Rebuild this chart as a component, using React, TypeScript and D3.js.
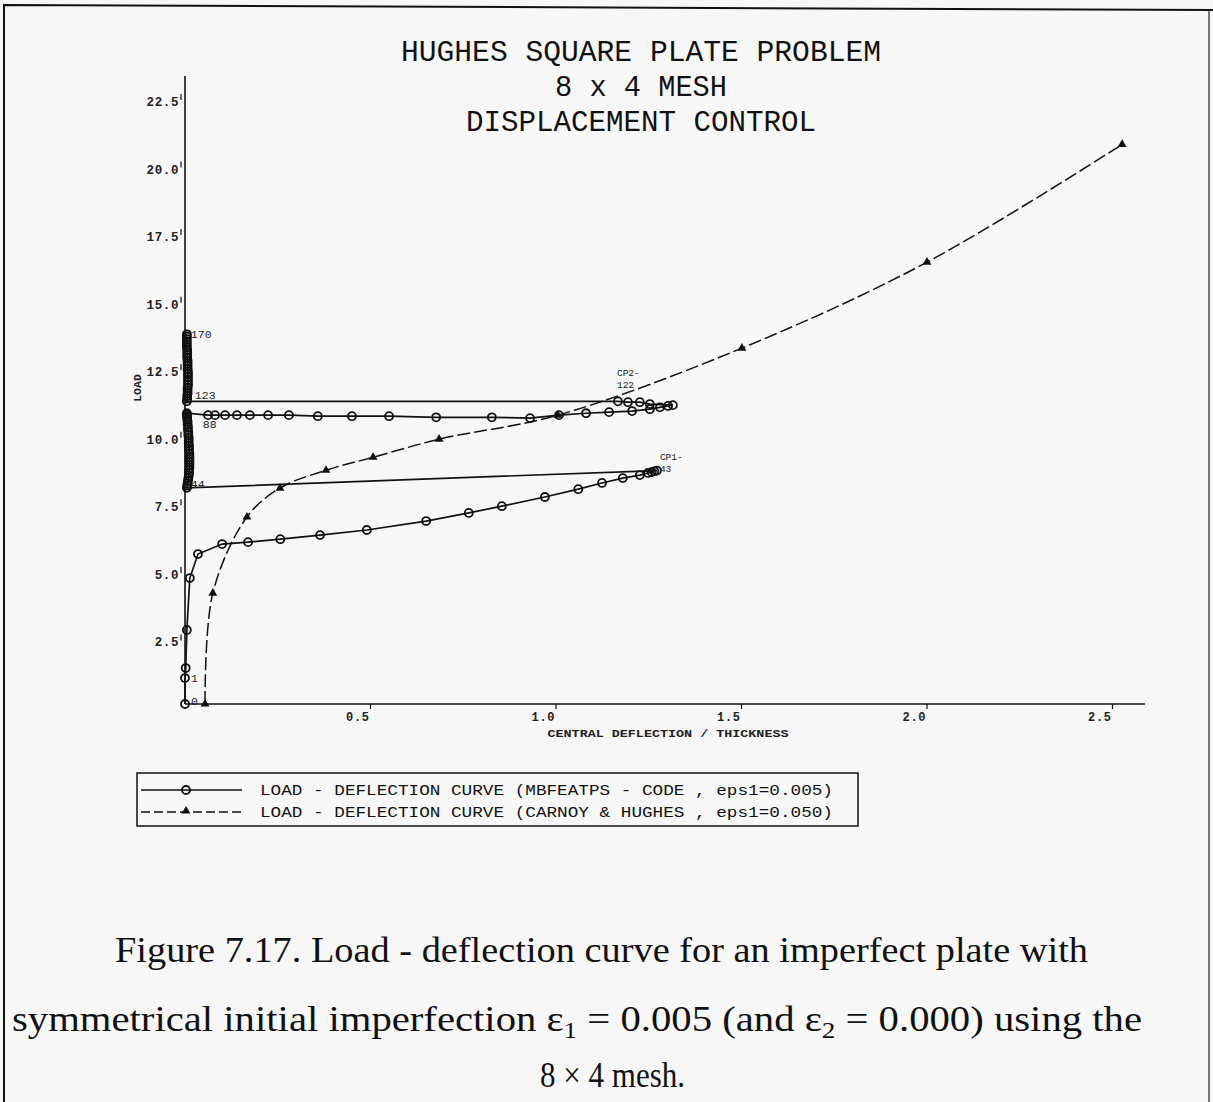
import React from "react";
import * as d3 from "d3";

// ---- data ----
const titleLines = ["HUGHES SQUARE PLATE PROBLEM", "8 x 4 MESH", "DISPLACEMENT CONTROL"];
const titleWidths = [480, 172, 350];

const xTicks = [0.5, 1.0, 1.5, 2.0, 2.5];
const yTicks = [2.5, 5.0, 7.5, 10.0, 12.5, 15.0, 17.5, 20.0, 22.5];

// MBFEATPS - CODE (eps1 = 0.005), steps 0 .. 170
const mbfDeflection = [
  // 0 -> 43
  0, 0, 0.002, 0.005, 0.013, 0.035, 0.1, 0.17, 0.257, 0.364, 0.49, 0.65, 0.765, 0.854, 0.97, 1.06,
  1.124, 1.18, 1.226, 1.248, 1.258, 1.265, 1.272,
  // 44 -> 88
  0.005, 0.006, 0.007, 0.008, 0.009, 0.01, 0.011, 0.011, 0.012, 0.012, 0.012, 0.012, 0.012, 0.012,
  0.011, 0.011, 0.011, 0.01, 0.01, 0.01, 0.009, 0.009, 0.008, 0.008, 0.007, 0.007, 0.006, 0.006,
  0.005, 0.005,
  // 88 -> 122
  0.062, 0.081, 0.108, 0.14, 0.175, 0.224, 0.28, 0.358, 0.45, 0.55, 0.677, 0.827, 0.93, 1.008,
  1.081, 1.143, 1.205, 1.253, 1.28, 1.302, 1.315, 1.253, 1.226, 1.194, 1.167,
  // 123 -> 170
  0.005, 0.006, 0.006, 0.007, 0.007, 0.007, 0.008, 0.008, 0.008, 0.008, 0.008, 0.008, 0.007,
  0.007, 0.007, 0.007, 0.006, 0.006, 0.006, 0.006, 0.005, 0.005, 0.005, 0.005, 0.005, 0.005,
];
const mbfLoad = [
  0, 0.96, 1.33, 2.74, 4.66, 5.55, 5.92, 5.99, 6.1, 6.25, 6.44, 6.77, 7.07, 7.32, 7.66, 7.95,
  8.18, 8.36, 8.47, 8.55, 8.58, 8.61, 8.64,
  8.0, 8.08, 8.16, 8.25, 8.35, 8.45, 8.55, 8.65, 8.75, 8.85, 8.95, 9.05, 9.15, 9.25,
  9.35, 9.45, 9.55, 9.65, 9.75, 9.85, 9.95, 10.05, 10.15, 10.25, 10.35, 10.45, 10.55, 10.63,
  10.7, 10.76,
  10.69, 10.69, 10.69, 10.69, 10.69, 10.69, 10.69, 10.65, 10.65, 10.65, 10.61, 10.61, 10.58, 10.69,
  10.76, 10.8, 10.84, 10.91, 10.98, 11.03, 11.06, 11.1, 11.17, 11.17, 11.2,
  11.2, 11.3, 11.4, 11.5, 11.6, 11.7, 11.8, 11.9, 12.0, 12.1, 12.2, 12.3, 12.4,
  12.5, 12.6, 12.7, 12.8, 12.9, 13.0, 13.1, 13.2, 13.3, 13.4, 13.5, 13.6, 13.68,
];

// CARNOY & HUGHES (eps1 = 0.050)
const chDeflection = [0.054, 0.075, 0.167, 0.256, 0.38, 0.507, 0.685, 1.005, 1.501, 2.0, 2.526];
const chLoad = [0.0, 4.1, 6.92, 7.99, 8.65, 9.13, 9.8, 10.69, 13.17, 16.35, 20.71];

// step annotations: text and the point of the MBFEATPS curve they belong to
const stepText = ["0", "1", "CP1-", "44", "88", "CP2-", "123", "170"];
const stepSub = ["", "", "43", "", "", "122", "", ""];
const stepIndex = [0, 1, 22, 23, 52, 77, 78, 103];

const legendLabels = [
  "LOAD - DEFLECTION CURVE (MBFEATPS - CODE , eps1=0.005)",
  "LOAD - DEFLECTION CURVE (CARNOY & HUGHES , eps1=0.050)",
];

const W = 1213;
const H = 1102;
const mono = "'Liberation Mono', 'DejaVu Sans Mono', monospace";
const serif = "'Liberation Serif', 'DejaVu Serif', serif";

// offsets of each step label from its point, in px
const stepOffset: Record<string, [number, number]> = {
  "0": [6, 1],
  "1": [6, 4],
  "CP1-": [3, -11],
  "44": [4, 0],
  "88": [16, 15],
  "CP2-": [-1, -25],
  "123": [8, -2],
  "170": [4, 4],
};

export default function App() {
  const x = d3.scaleLinear().domain([0, 2.5]).range([185, 1112.5]);
  const y = d3.scaleLinear().domain([0, 22.5]).range([704, 96]);

  const n = Math.min(mbfDeflection.length, mbfLoad.length);
  const mbf = mbfDeflection.slice(0, n).map((d, i) => [d, mbfLoad[i]] as [number, number]);
  const ch = chDeflection.map((d, i) => [d, chLoad[i]] as [number, number]);

  const solid = d3.line<[number, number]>().x(d => x(d[0])).y(d => y(d[1]))(mbf) || "";
  const dashed =
    d3.line<[number, number]>().x(d => x(d[0])).y(d => y(d[1])).curve(d3.curveCatmullRom.alpha(0.5))(ch) || "";
  const tri = d3.symbol().type(d3.symbolTriangle).size(34)() || "";

  const x0 = x(0);
  const y0 = y(0);

  return (
    <svg
      width={W}
      height={H}
      style={{ position: "absolute", left: 0, top: 0, background: "#f7f7f7" }}
    >
      {/* page frame */}
      <path d={`M4,${H} L4,5 L${W},10`} fill="none" stroke="#111" strokeWidth={2} />
      <line x1={1209} y1={10} x2={1209} y2={H} stroke="#333" strokeWidth={1.3} />

      {/* title */}
      {titleLines.map((t, i) => (
        <text
          key={t}
          x={641}
          y={61 + i * 35}
          textAnchor="middle"
          fontFamily={mono}
          fontSize={29}
          textLength={titleWidths[i]}
          lengthAdjust="spacingAndGlyphs"
          fill="#111"
        >
          {t}
        </text>
      ))}

      {/* axes */}
      <line x1={x0} y1={y0} x2={x0} y2={76} stroke="#111" strokeWidth={1.6} />
      <line x1={x0} y1={y0} x2={1145} y2={y0} stroke="#111" strokeWidth={1.6} />

      {yTicks.map(t => (
        <g key={t}>
          <line x1={181} y1={y(t) - 2} x2={181} y2={y(t) + 4} stroke="#111" strokeWidth={1.2} />
          <text
            x={179}
            y={y(t) + 10}
            textAnchor="end"
            fontFamily={mono}
            fontWeight="bold"
            fontSize={12.5}
            letterSpacing={0.6}
            fill="#222"
          >
            {t.toFixed(1)}
          </text>
        </g>
      ))}
      {xTicks.map(t => (
        <g key={t}>
          <line x1={x(t)} y1={y0} x2={x(t)} y2={y0 + 5} stroke="#111" strokeWidth={1.2} />
          <text
            x={x(t) - 1}
            y={y0 + 17}
            textAnchor="end"
            fontFamily={mono}
            fontWeight="bold"
            fontSize={12}
            letterSpacing={0.6}
            fill="#222"
          >
            {t.toFixed(1)}
          </text>
        </g>
      ))}

      <text
        x={668}
        y={737}
        textAnchor="middle"
        fontFamily={mono}
        fontWeight="bold"
        fontSize={10.5}
        textLength={241}
        lengthAdjust="spacingAndGlyphs"
        fill="#222"
      >
        CENTRAL DEFLECTION / THICKNESS
      </text>
      <text
        transform="translate(141,388) rotate(-90)"
        textAnchor="middle"
        fontFamily={mono}
        fontWeight="bold"
        fontSize={11.5}
        fill="#222"
      >
        LOAD
      </text>

      {/* Carnoy & Hughes curve */}
      <path d={dashed} fill="none" stroke="#111" strokeWidth={1.5} strokeDasharray="13 4" />
      {ch.map((d, i) => (
        <path key={i} d={tri} transform={`translate(${x(d[0])},${y(d[1])})`} fill="#111" />
      ))}

      {/* MBFEATPS curve */}
      <path d={solid} fill="none" stroke="#111" strokeWidth={1.7} />
      {mbf.map((d, i) => (
        <circle key={i} cx={x(d[0])} cy={y(d[1])} r={4} fill="none" stroke="#111" strokeWidth={1.8} />
      ))}

      {/* step annotations */}
      {stepText.map((s, i) => {
        const p = mbf[stepIndex[i]];
        if (!p) return null;
        const [dx, dy] = stepOffset[s];
        const px = x(p[0]) + dx;
        const py = y(p[1]) + dy;
        const two = stepSub[i] !== "";
        return (
          <g key={s} fontFamily={mono} fontSize={two ? 9.5 : 11.5} fill="#222">
            <text x={px} y={py}>{s}</text>
            {two && <text x={px} y={py + 12}>{stepSub[i]}</text>}
          </g>
        );
      })}

      {/* legend */}
      <rect x={137} y={773} width={721} height={53} fill="none" stroke="#111" strokeWidth={1.5} />
      <line x1={141} y1={790} x2={242} y2={790} stroke="#111" strokeWidth={1.7} />
      <circle cx={186} cy={790} r={4} fill="none" stroke="#111" strokeWidth={1.8} />
      <line x1={141} y1={812} x2={242} y2={812} stroke="#111" strokeWidth={1.4} strokeDasharray="9 4" />
      <path d={tri} transform="translate(186,811)" fill="#111" />
      {legendLabels.map((l, i) => (
        <text
          key={l}
          x={260}
          y={795 + i * 22}
          fontFamily={mono}
          fontSize={15.5}
          textLength={573}
          lengthAdjust="spacingAndGlyphs"
          fill="#111"
        >
          {l}
        </text>
      ))}

      {/* caption */}
      <g fontFamily={serif} fontSize={36} fill="#111">
        <text x={115} y={962} textLength={973} lengthAdjust="spacingAndGlyphs">
          Figure 7.17. Load - deflection curve for an imperfect plate with
        </text>
        <text x={12} y={1031} textLength={1130} lengthAdjust="spacingAndGlyphs">
          symmetrical initial imperfection ε
          <tspan fontSize={24} dy={7}>1</tspan>
          <tspan dy={-7}> = 0.005 (and ε</tspan>
          <tspan fontSize={24} dy={7}>2</tspan>
          <tspan dy={-7}> = 0.000) using the</tspan>
        </text>
        <text x={540} y={1087} textLength={145} lengthAdjust="spacingAndGlyphs">
          8 × 4 mesh.
        </text>
      </g>
    </svg>
  );
}
